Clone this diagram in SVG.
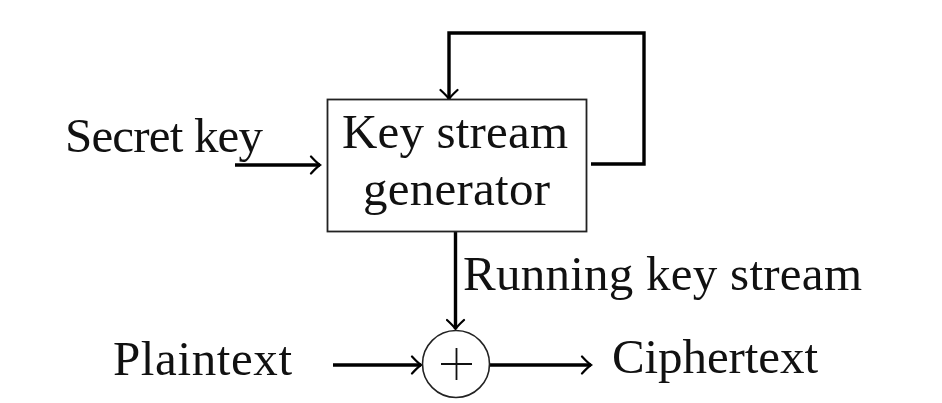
<svg xmlns="http://www.w3.org/2000/svg" width="942" height="403" viewBox="0 0 942 403">
<style>
text{font-family:"Liberation Serif","Times New Roman",serif;font-size:49px;fill:#111}
.node{fill:#fff;stroke:#222;stroke-width:1.8}
.wire{fill:none;stroke:#000;stroke-width:3.4;stroke-linejoin:miter}
</style>
<defs>
<marker id="arr" markerUnits="userSpaceOnUse" markerWidth="20" markerHeight="20" viewBox="-12 -10 14 20" refX="0" refY="0" orient="auto">
<path d="M -9,-8.5 Q -3,-2 0,0 Q -3,2 -9,8.5" fill="none" stroke="#000" stroke-width="2.2" stroke-linecap="round"/>
</marker>
</defs>
<rect width="942" height="403" fill="#fff"/>
<g id="connectors">
<path class="wire" d="M 235,165 L 320,165" marker-end="url(#arr)"/>
<path class="wire" d="M 591,164 L 644,164 L 644,33 L 449,33 L 449,99" marker-end="url(#arr)"/>
<path class="wire" d="M 455.5,232 L 455.5,329" marker-end="url(#arr)"/>
<path class="wire" d="M 333,365 L 421,365" marker-end="url(#arr)"/>
<path class="wire" d="M 490,365 L 591,365" marker-end="url(#arr)"/>
</g>
<g id="secret-key">
<text x="65" y="152" textLength="198" lengthAdjust="spacing">Secret key</text>
</g>
<g id="generator">
<rect class="node" x="327.5" y="99.5" width="259" height="132"/>
<text x="342" y="148" textLength="226" lengthAdjust="spacing">Key stream</text>
<text x="363" y="205" textLength="187" lengthAdjust="spacing">generator</text>
</g>
<g id="running-key-label">
<text x="463" y="290" textLength="399" lengthAdjust="spacing">Running key stream</text>
</g>
<g id="plaintext">
<text x="113" y="375" textLength="179" lengthAdjust="spacing">Plaintext</text>
</g>
<g id="xor">
<circle cx="456" cy="364" r="33.5" fill="#fff" stroke="#222" stroke-width="1.6"/>
<path d="M 441,364 L 472,364 M 456.5,348 L 456.5,380" stroke="#111" stroke-width="1.8" fill="none"/>
</g>
<g id="ciphertext">
<text x="612" y="373" textLength="206" lengthAdjust="spacing">Ciphertext</text>
</g>
</svg>
